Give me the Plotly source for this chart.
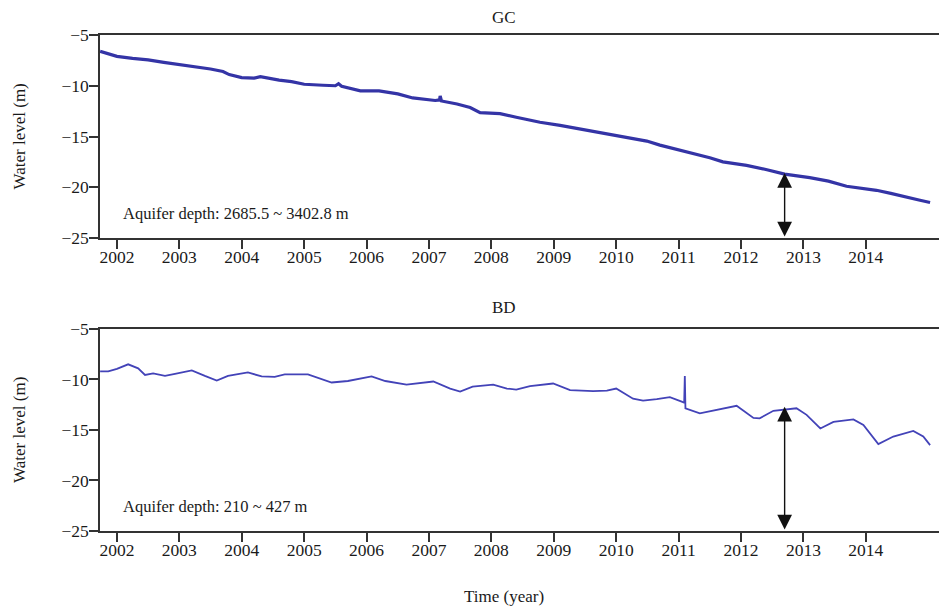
"""Water level time series for the GC and BD wells."""
import datetime as dt

import plotly.graph_objects as go
from plotly.subplots import make_subplots

FONT = "Liberation Serif"
LINE_GC = "#3434a6"
LINE_BD = "#4343b8"
AXIS = "#333333"
TEXT = "#1a1a1a"

# GC well: decimal year / water level (m)
gc_year = [2001.73, 2001.85, 2002.0, 2002.25, 2002.5, 2002.75, 2003.0, 2003.25, 2003.5,
           2003.7, 2003.8, 2004.0, 2004.2, 2004.3, 2004.6, 2004.8, 2005.0, 2005.3,
           2005.5, 2005.55, 2005.6, 2005.9, 2006.2, 2006.5, 2006.74, 2007.1, 2007.17,
           2007.18, 2007.2, 2007.45, 2007.66, 2007.82, 2008.14, 2008.4, 2008.78, 2009.1,
           2009.37, 2009.65, 2009.95, 2010.2, 2010.49, 2010.7, 2010.86, 2011.23, 2011.5,
           2011.71, 2012.09, 2012.4, 2012.7, 2013.1, 2013.4, 2013.69, 2014.17, 2014.4,
           2014.65, 2014.85, 2015.03]
gc_level = [-6.6, -6.85, -7.1, -7.3, -7.45, -7.7, -7.9, -8.1, -8.35,
            -8.6, -8.9, -9.2, -9.25, -9.1, -9.45, -9.6, -9.85, -9.95,
            -10.0, -9.8, -10.05, -10.5, -10.5, -10.8, -11.2, -11.45, -11.4,
            -11.0, -11.5, -11.8, -12.15, -12.65, -12.75, -13.1, -13.6, -13.9,
            -14.2, -14.45, -14.8, -15.1, -15.45, -15.85, -16.1, -16.6, -17.1,
            -17.5, -17.85, -18.25, -18.7, -19.05, -19.4, -19.9, -20.3, -20.6,
            -21.0, -21.25, -21.5]

# BD well: decimal year / water level (m)
bd_year = [2001.73, 2001.86, 2002.0, 2002.18, 2002.34, 2002.45, 2002.58, 2002.77, 2002.93,
           2003.2, 2003.41, 2003.6, 2003.78, 2004.1, 2004.32, 2004.53, 2004.69,
           2005.06, 2005.44, 2005.7, 2006.08, 2006.3, 2006.64, 2007.07, 2007.34,
           2007.5, 2007.7, 2008.03, 2008.25, 2008.4, 2008.62, 2008.99, 2009.26,
           2009.63, 2009.85, 2010.0, 2010.27, 2010.43, 2010.65, 2010.86, 2011.05,
           2011.09, 2011.1, 2011.11, 2011.34, 2011.61, 2011.93, 2012.2, 2012.3,
           2012.52, 2012.89, 2013.05, 2013.27, 2013.48, 2013.8, 2013.96, 2014.2,
           2014.44, 2014.76, 2014.92, 2015.03]
bd_level = [-9.2, -9.2, -8.95, -8.5, -8.9, -9.55, -9.4, -9.65, -9.45,
            -9.1, -9.65, -10.1, -9.65, -9.3, -9.7, -9.75, -9.5,
            -9.5, -10.3, -10.15, -9.7, -10.15, -10.5, -10.2, -10.9,
            -11.2, -10.7, -10.5, -10.9, -11.0, -10.65, -10.4, -11.05,
            -11.15, -11.1, -10.9, -11.9, -12.1, -11.95, -11.75, -12.2,
            -12.3, -9.65, -12.85, -13.35, -13.0, -12.6, -13.8, -13.85,
            -13.1, -12.85, -13.5, -14.85, -14.2, -13.95, -14.5, -16.4,
            -15.65, -15.1, -15.65, -16.5]

year_ticks = list(range(2002, 2015))
depth_labels = ["Aquifer depth: 2685.5 ~ 3402.8 m", "Aquifer depth: 210 ~ 427 m"]
arrow_top = [-18.6, -12.7]


def to_date(year):
    """Decimal year -> datetime."""
    y = int(year)
    start = dt.datetime(y, 1, 1)
    return start + dt.timedelta(days=(year - y) * 365.25)


x_range = [to_date(2001.728), to_date(2015.301)]
arrow_x = to_date(2012.7)
text_x = to_date(2002.07)

fig = make_subplots(rows=2, cols=1, vertical_spacing=0.1)
fig.add_trace(go.Scatter(x=[to_date(v) for v in gc_year], y=gc_level, mode="lines",
                         line=dict(color=LINE_GC, width=3.2)), row=1, col=1)
fig.add_trace(go.Scatter(x=[to_date(v) for v in bd_year], y=bd_level, mode="lines",
                         line=dict(color=LINE_BD, width=1.8)), row=2, col=1)

for i, (ax_name, dom) in enumerate([("", [0.5907, 1.0]), ("2", [0.0, 0.4073])]):
    fig.layout["xaxis" + ax_name].update(
        range=x_range, tickvals=[to_date(y) for y in year_ticks],
        ticktext=[str(y) for y in year_ticks], showgrid=False, zeroline=False,
        showline=True, linecolor=AXIS, linewidth=1.5, mirror=True,
        ticks="outside", ticklen=9, tickcolor=AXIS, tickwidth=1.5,
        ticklabelstandoff=-7,
        tickfont=dict(family=FONT, size=17.5, color=TEXT))
    fig.layout["yaxis" + ax_name].update(
        domain=dom, range=[-25, -5], tickvals=[-5, -10, -15, -20, -25],
        showgrid=False, zeroline=False, showline=True, linecolor=AXIS,
        linewidth=1.5, ticks="outside", ticklen=9, tickcolor=AXIS, tickwidth=1.5,
        ticklabelstandoff=-3,
        tickfont=dict(family=FONT, size=17.5, color=TEXT))
    xref = "x" + ax_name
    yref = "y" + ax_name
    fig.add_annotation(x=text_x, y=-22.6, xref=xref, yref=yref, text=depth_labels[i],
                       showarrow=False, xanchor="left", yanchor="middle",
                       font=dict(family=FONT, size=16.5, color=TEXT))
    fig.add_annotation(x=arrow_x, y=arrow_top[i], ax=arrow_x, ay=-25,
                       xref=xref, yref=yref, axref=xref, ayref=yref, text="",
                       showarrow=True, arrowhead=2, startarrowhead=2,
                       arrowside="end+start", arrowsize=2.1, arrowwidth=1.4,
                       arrowcolor="#111", standoff=0, startstandoff=0)
    # rotated y title, placed by hand
    fig.add_annotation(x=-0.0945, y=sum(dom) / 2, xref="paper", yref="paper",
                       text="Water level (m)", textangle=-90, showarrow=False,
                       xanchor="center", yanchor="middle",
                       font=dict(family=FONT, size=17, color=TEXT))

for name, ypos in [("GC", 1.036), ("BD", 0.4496)]:
    fig.add_annotation(x=0.477, y=ypos, xref="paper", yref="paper", text=name,
                       showarrow=False, xanchor="center", yanchor="middle",
                       font=dict(family=FONT, size=17, color=TEXT))
fig.add_annotation(x=0.477, y=-0.133, xref="paper", yref="paper", text="Time (year)",
                   showarrow=False, xanchor="center", yanchor="middle",
                   font=dict(family=FONT, size=17, color=TEXT))

# page has an 8px body margin, so the figure is shrunk and shifted to fit
fig.update_layout(
    width=939, height=604, showlegend=False,
    paper_bgcolor="white", plot_bgcolor="white",
    margin=dict(l=92, r=0, t=27, b=81),
)

fig.write_html("out.html")
